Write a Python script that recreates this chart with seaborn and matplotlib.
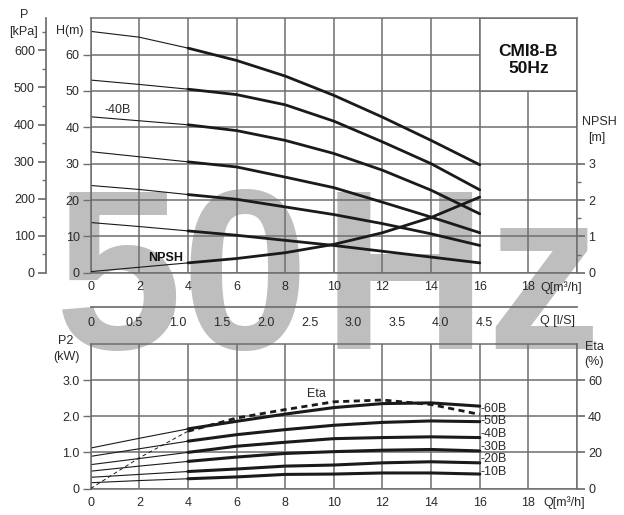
import seaborn as sns
import matplotlib.pyplot as plt
from matplotlib.patches import Rectangle
from matplotlib.ticker import MultipleLocator

q = [0, 2, 4, 6, 8, 10, 12, 14, 16]
models = ["-60B", "-50B", "-40B", "-30B", "-20B", "-10B"]

# head H (m)
h_60b = [66.4, 64.8, 61.8, 58.4, 54.1, 48.8, 42.8, 36.4, 29.7]
h_50b = [53.0, 51.8, 50.5, 49.0, 46.2, 41.7, 36.0, 30.0, 22.8]
h_40b = [42.9, 41.8, 40.7, 39.1, 36.4, 32.8, 28.2, 22.7, 16.2]
h_30b = [33.3, 31.9, 30.5, 29.1, 26.3, 23.4, 19.4, 15.3, 11.0]
h_20b = [24.0, 22.9, 21.5, 20.2, 18.1, 16.0, 13.5, 10.7, 7.5]
h_10b = [13.8, 12.7, 11.5, 10.3, 8.9, 7.5, 5.9, 4.3, 2.7]

# NPSH (m)
npsh = [0.03, 0.15, 0.27, 0.39, 0.55, 0.78, 1.10, 1.52, 2.08]

# power P2 (kW)
p2_60b = [1.12, 1.39, 1.65, 1.86, 2.06, 2.24, 2.35, 2.37, 2.28]
p2_50b = [0.89, 1.10, 1.31, 1.49, 1.63, 1.75, 1.83, 1.87, 1.85]
p2_40b = [0.66, 0.83, 1.00, 1.17, 1.28, 1.38, 1.41, 1.43, 1.41]
p2_30b = [0.48, 0.62, 0.75, 0.87, 0.97, 1.02, 1.06, 1.08, 1.04]
p2_20b = [0.31, 0.39, 0.47, 0.54, 0.62, 0.65, 0.71, 0.74, 0.71]
p2_10b = [0.16, 0.22, 0.27, 0.32, 0.39, 0.40, 0.43, 0.43, 0.40]

# efficiency (%)
eta = [0, 17, 31.7, 39, 43.7, 48, 49, 46.5, 41]

heads = [h_60b, h_50b, h_40b, h_30b, h_20b, h_10b]
powers = [p2_60b, p2_50b, p2_40b, p2_30b, p2_20b, p2_10b]

sns.set_theme(style="white")
plt.rcParams["font.family"] = ["Liberation Sans", "DejaVu Sans"]
plt.rcParams["lines.solid_joinstyle"] = "round"

GRID = "#6e6e6e"
TXT = "#2a2a2a"
W, HP = 624, 515

fig = plt.figure(figsize=(W / 100, HP / 100), dpi=100)


def fx(px):
    return px / W


def fy(py):
    return 1 - py / HP


# big watermark behind everything
wm = dict(fontsize=165, fontweight="bold", color="#bebebe",
          va="baseline", ha="left", zorder=-5)
fig.text(fx(55), fy(349), "50", **wm)
fig.text(fx(322), fy(349), "Hz", **wm)

ax = fig.add_axes([fx(90.7), fy(272.7), 486.3 / W, 254.4 / HP])
ax2 = fig.add_axes([fx(90.7), fy(488.5), 486.3 / W, 144.5 / HP])

for a in (ax, ax2):
    a.set_facecolor("none")
    a.set_axisbelow(True)
    a.grid(True, color=GRID, lw=1.1)
    for s in a.spines.values():
        s.set_color(GRID)
        s.set_linewidth(1.1)
    a.tick_params(colors=GRID, labelcolor=TXT, length=4, width=1,
                  labelsize=9, pad=2)
    a.set_xlim(0, 20)
    a.set_xticks(range(0, 21, 2))
    a.set_xticklabels([str(v) for v in range(0, 19, 2)] + [""])

# ---- upper chart: head ----
ax.set_ylim(0, 70)
ax.set_yticks(range(0, 61, 10))
ax.tick_params(axis="y", length=6)
ax.add_patch(Rectangle((16, 50), 4, 20, facecolor="white", edgecolor=GRID,
                       lw=1.1, zorder=1.5))
ax.text(18, 58.6, "CMI8-B\n50Hz", ha="center", va="center", fontsize=12.5,
        fontweight="bold", color="#111", linespacing=1.15, zorder=3)

for hv in heads:
    sns.lineplot(x=q[:3], y=hv[:3], ax=ax, color="k", lw=0.8)
    sns.lineplot(x=q[2:], y=hv[2:], ax=ax, color="k", lw=2.0)

axn = ax.twinx()
axn.set_ylim(0, 7)
for s in axn.spines.values():
    s.set_visible(False)
axn.set_yticks([0, 1, 2, 3])
axn.set_yticks([0.5, 1.5, 2.5], minor=True)
axn.tick_params(axis="y", which="major", colors=GRID, labelcolor=TXT,
                length=6, labelsize=9, pad=2)
axn.tick_params(axis="y", which="minor", colors=GRID, length=3)
sns.lineplot(x=q[:3], y=npsh[:3], ax=axn, color="k", lw=0.8)
sns.lineplot(x=q[2:], y=npsh[2:], ax=axn, color="k", lw=2.0)

# pressure scale on the far left
sec = ax.secondary_yaxis(-44.7 / 486.3,
                         functions=(lambda h: h * 9.81, lambda p: p / 9.81))
sec.set_yticks(range(0, 601, 100))
sec.yaxis.set_minor_locator(MultipleLocator(50))
sec.tick_params(axis="y", which="major", colors=GRID, labelcolor=TXT,
                length=6, labelsize=9, pad=2)
sec.tick_params(axis="y", which="minor", colors=GRID, length=3)
sec.spines["left"].set_color(GRID)

for a in (ax, ax2, axn):
    a.set_xlabel("")
    a.set_ylabel("")

# ---- flow scale in l/s ----
axq = fig.add_axes([fx(90.7), fy(307.3), 486.3 / W, 0.001])
axq.set_facecolor("none")
for k in ("top", "left", "right"):
    axq.spines[k].set_visible(False)
axq.spines["bottom"].set_color(GRID)
axq.set_xlim(0, 20 / 3.6)
axq.set_yticks([])
axq.set_xticks([0.5 * i for i in range(10)])
axq.set_xticklabels(["0"] + [f"{0.5 * i:.1f}" for i in range(1, 10)])
axq.set_xticks([0.25 + 0.5 * i for i in range(9)], minor=True)
axq.tick_params(axis="x", which="major", colors=GRID, labelcolor=TXT,
                length=4, labelsize=9, pad=3)
axq.tick_params(axis="x", which="minor", colors=GRID, length=2)

# ---- lower chart: power and efficiency ----
ax2.set_ylim(0, 4)
ax2.set_yticks([0, 1, 2, 3])
ax2.set_yticklabels(["0", "1.0", "2.0", "3.0"])
ax2.tick_params(axis="y", length=6)
for pv in powers:
    sns.lineplot(x=q[:3], y=pv[:3], ax=ax2, color="k", lw=0.8)
    sns.lineplot(x=q[2:], y=pv[2:], ax=ax2, color="k", lw=2.2)

axe = ax2.twinx()
axe.set_ylim(0, 80)
for s in axe.spines.values():
    s.set_visible(False)
axe.set_yticks([0, 20, 40, 60])
axe.tick_params(axis="y", colors=GRID, labelcolor=TXT, length=6,
                labelsize=9, pad=2)
sns.lineplot(x=q[:3], y=eta[:3], ax=axe, color="k", lw=0.7,
             linestyle=(0, (4, 3)))
sns.lineplot(x=q[2:], y=eta[2:], ax=axe, color="k", lw=2.0,
             linestyle=(0, (2.2, 1.6)))
axe.set_xlabel("")
axe.set_ylabel("")
ax2.set_xlabel("")
ax2.set_ylabel("")

for i, m in enumerate(models):
    ax2.text(16.05, 2.21 - 0.35 * i, m, fontsize=9, color=TXT,
             va="center", ha="left")
ax2.text(9.3, 2.62, "Eta", fontsize=9, color=TXT, ha="center", va="center")

# ---- free labels ----
lab = dict(fontsize=9, color=TXT, ha="center", va="center")
fig.text(fx(24), fy(15), "P", **lab)
fig.text(fx(24), fy(32), "[kPa]", **lab)
fig.text(fx(70), fy(31), "H(m)", **lab)
fig.text(fx(118), fy(110), "-40B", **lab)
fig.text(fx(166), fy(257.7), "NPSH", fontsize=9, fontweight="bold",
         color="#111", ha="center", va="center")
fig.text(fx(599), fy(121.7), "NPSH", **lab)
fig.text(fx(597), fy(138), "[m]", **lab)
fig.text(fx(540), fy(287.5), "Q[m³/h]", fontsize=9, color=TXT,
         ha="left", va="center")
fig.text(fx(540), fy(321), "Q [l/S]", fontsize=9, color=TXT,
         ha="left", va="center")
fig.text(fx(66), fy(341), "P2", **lab)
fig.text(fx(66), fy(357), "(kW)", **lab)
fig.text(fx(594), fy(347), "Eta", **lab)
fig.text(fx(594), fy(362), "(%)", **lab)
fig.text(fx(543), fy(503), "Q[m³/h]", fontsize=9, color=TXT,
         ha="left", va="center")

fig.savefig("out.png", dpi=100, facecolor="white")
